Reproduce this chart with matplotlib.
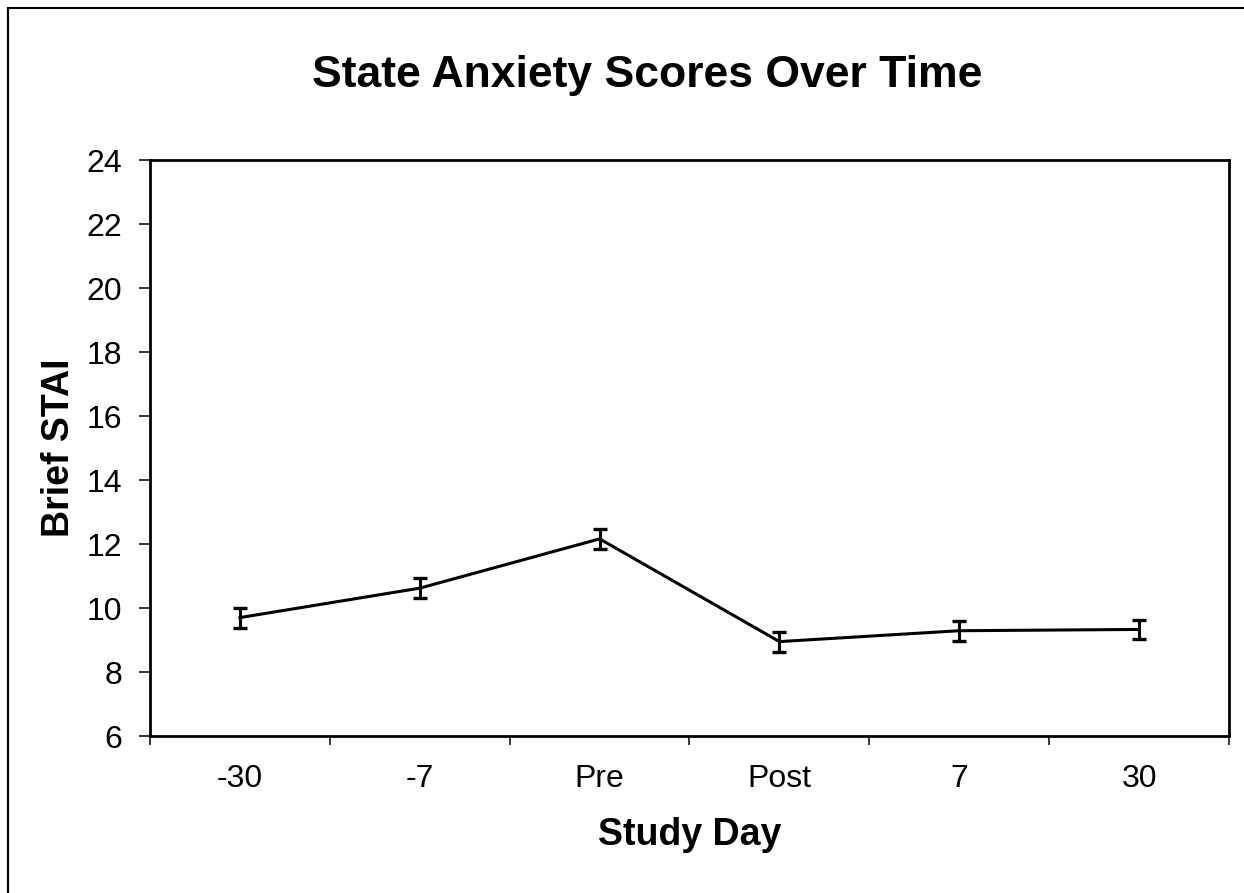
import matplotlib
matplotlib.use("Agg")
import matplotlib.pyplot as plt
from matplotlib.patches import Rectangle
import numpy as np

# study days and brief STAI means / error bars
days = ['-30', '-7', 'Pre', 'Post', '7', '30']
stai_mean = [9.70, 10.62, 12.16, 8.95, 9.29, 9.33]
stai_err = [0.31, 0.31, 0.31, 0.31, 0.31, 0.31]

plt.rcParams['font.family'] = ['Liberation Sans', 'DejaVu Sans']

W, H = 1244, 893
fig = plt.figure(figsize=(W / 100, H / 100), dpi=100)
ax = fig.add_axes([150 / W, 1 - 736 / H, (1229 - 150) / W, (736 - 160) / H])

x = np.arange(len(days))
ax.errorbar(x, stai_mean, yerr=stai_err, color='black', linewidth=2.2,
            elinewidth=2.2, capsize=5, capthick=2.4)

ax.set_xlim(-0.5, len(days) - 0.5)
ax.set_ylim(6, 24)
ax.set_yticks(np.arange(6, 25, 2))
ax.tick_params(axis='y', labelsize=23, direction='out', length=8, width=1.1, pad=12)

# tick marks between categories, labels at category centres
ax.set_xticks(np.arange(-0.5, len(days), 1.0))
ax.set_xticklabels([])
ax.tick_params(axis='x', which='major', direction='out', length=6.5, width=1.1)
ax.set_xticks(x, minor=True)
ax.set_xticklabels(days, minor=True)
ax.tick_params(axis='x', which='minor', length=0, labelsize=23, pad=20)

for s in ax.spines.values():
    s.set_linewidth(2)

fig.text(647 / W, 1 - 87 / H, 'State Anxiety Scores Over Time', fontsize=32,
         fontweight='bold', ha='center', va='baseline')
fig.text(690 / W, 1 - 845 / H, 'Study Day', fontsize=27, fontweight='bold',
         ha='center', va='baseline')
fig.text(59 / W, 1 - 448 / H, 'Brief STAI', fontsize=27, fontweight='bold',
         rotation=90, ha='center', va='center')

# outer chart frame (runs off the right and bottom edges)
fig.patches.append(Rectangle((8 / W, -0.1), 1.2, 1 - 8 / H + 0.1,
                             transform=fig.transFigure, fill=False,
                             edgecolor='black', linewidth=1.5))

fig.savefig('out.png', dpi=100)
